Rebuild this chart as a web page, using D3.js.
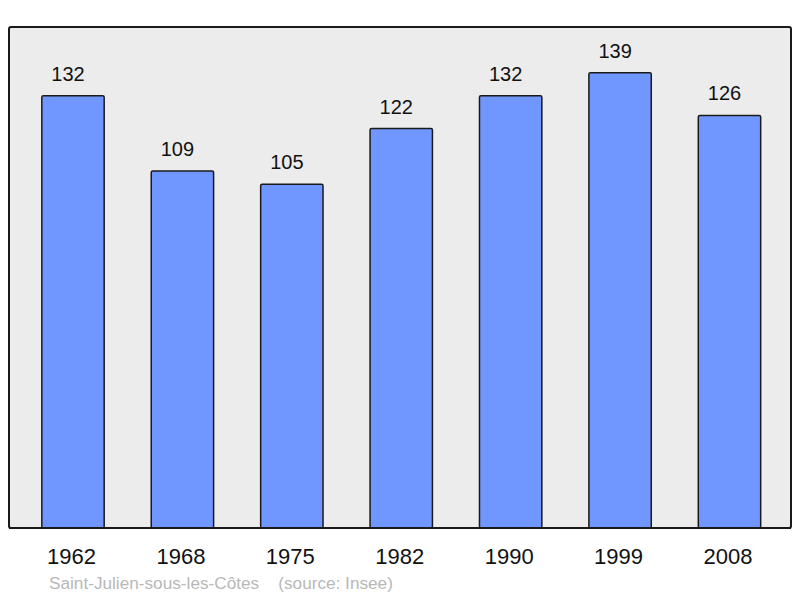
<!DOCTYPE html>
<html><head><meta charset="utf-8">
<script src="https://cdn.jsdelivr.net/npm/d3@7"></script>
<style>body{margin:0;background:#fff}svg{display:block}</style>
</head><body>
<script>
const years = ["1962","1968","1975","1982","1990","1999","2008"];
const population = [132,109,105,122,132,139,126];
const footerText = "Saint-Julien-sous-les-Côtes    (source: Insee)";

const W = 800, H = 598;
const svg = d3.select("body").append("svg").attr("width", W).attr("height", H);
const font = "Liberation Sans, Arial, sans-serif";

const plot = {x0: 9, y0: 27, x1: 791, y1: 528};
svg.append("rect").attr("x", plot.x0).attr("y", plot.y0)
  .attr("width", plot.x1 - plot.x0).attr("height", plot.y1 - plot.y0)
  .attr("rx", 2).attr("fill", "#ececec").attr("stroke", "#1a1a1a").attr("stroke-width", 2);

const x = d3.scaleBand().domain(years).range([18.3, 784.2]).paddingInner(0.43).paddingOuter(0.215);
const y = d3.scaleLinear().domain([0, 153]).range([plot.y1, plot.y0]);

svg.selectAll("rect.bar").data(years).join("rect").attr("class","bar")
  .attr("x", d => x(d)).attr("y", (d,i) => y(population[i]))
  .attr("width", x.bandwidth()).attr("height", (d,i) => y(0) - y(population[i]))
  .attr("rx", 1.5).attr("fill", "#7096ff").attr("stroke", "#1a1a1a").attr("stroke-width", 1.5);

svg.selectAll("text.val").data(years).join("text").attr("class","val")
  .attr("x", d => x(d) + x.bandwidth()/2 - 5).attr("y", (d,i) => y(population[i]) - 15)
  .attr("text-anchor","middle").attr("font-family", font).attr("font-size", 20).attr("fill","#111")
  .text((d,i) => population[i]);

svg.append("line").attr("x1", plot.x0).attr("x2", plot.x1).attr("y1", plot.y1).attr("y2", plot.y1)
  .attr("stroke", "#1a1a1a").attr("stroke-width", 2);

const axis = d3.axisBottom(x).tickSize(0).tickPadding(0);
const g = svg.append("g").attr("transform", `translate(0,${plot.y1})`).call(axis);
g.select(".domain").remove();
g.selectAll("text").attr("font-family", font).attr("font-size", 22).attr("fill","#111")
  .attr("dy", null).attr("y", 36).attr("dx", -1.5);

svg.append("text").attr("x", 49).attr("y", 589).attr("font-family", font).attr("font-size", 17.2)
  .attr("fill", "#b8b8b8").attr("xml:space","preserve").style("white-space","pre").text(footerText);
</script>
</body></html>
